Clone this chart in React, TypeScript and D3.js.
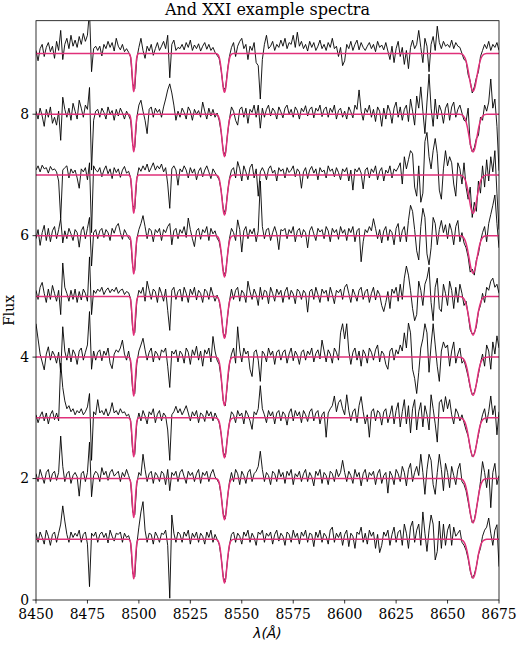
import React from "react";
import * as d3 from "d3";

const W = 520;
const H = 645;

const title = "And XXI example spectra";
const xTicks = [8450, 8475, 8500, 8525, 8550, 8575, 8600, 8625, 8650, 8675];
const yTicks = [0, 2, 4, 6, 8];

// spectra are sampled every 1 A starting at 8450 A
const lambda0 = 8450;
const offsets = [1, 2, 3, 4, 5, 6, 7, 8, 9];

// flux minus continuum, in hundredths
const spec1 = [
  10, -5, 12, 3, -8, 15, 5, -10, 8, 12,
  -5, 10, 25, 55, 30, 8, -5, 12, 3, 10,
  5, 15, -5, 8, 12, -8, -78, 10, 5, 12,
  -5, 8, 12, 3, 10, -6, 15, 5, -3, 10,
  8, 12, -5, 10, 3, 6, -6, -56, -62, -8,
  20, 45, 62, 15, -5, 10, 8, -8, 12, 5,
  -5, 10, 8, 15, -10, -97, 40, 10, -5, 12,
  8, -5, 12, 5, 15, -8, 10, 3, 12, -5,
  10, 5, -8, 12, 3, 15, -5, 8, 0, -8,
  -30, -62, -70, -36, -10, 8, 12, -5, 10, 5,
  -8, 12, 5, 15, -5, 10, 3, -10, 12, 8,
  15, -5, 10, 5, 12, -8, 8, 15, -3, 10,
  5, -10, 12, 8, -5, 15, 3, 10, -8, 12,
  5, 15, -5, 10, 8, -12, 12, 3, 15, -5,
  10, 5, -8, 15, 20, -5, 10, 3, 12, -10,
  8, 15, -12, 10, 5, -15, 12, 8, 20, -5,
  10, -8, 15, 5, 12, -15, 8, -22, -10, 12,
  5, 15, -10, 8, 20, -5, 12, 15, -10, 25,
  10, -15, 20, 30, -5, 15, 25, -10, 45, 10,
  -20, 15, 40, 25, -34, -20, 30, -15, 25, -10,
  15, 25, -10, 20, 5, 10, 15, -5, -10, -18,
  -32, -52, -64, -58, -45, -25, -15, 5, 15, 20,
  35, 10, -10, 15, 24, -45,
];
const spec2 = [
  8, -5, 15, 3, -8, 10, 15, -5, 8, 12,
  -3, 10, 70, 20, -5, 8, 12, -8, 5, 10,
  3, -29, 8, 12, -5, 10, 60, -30, 5, 12,
  8, -5, 18, 6, 12, -3, 10, 15, 4, 8,
  12, -5, 10, 3, 15, 5, -6, -55, -60, -8,
  10, 5, 40, 15, -5, 8, 12, -8, 10, 5,
  -5, 12, 8, -10, 15, -20, 10, 5, 12, -5,
  10, 15, 3, -8, 12, 5, 10, -5, 8, 15,
  -8, 10, 5, 12, -5, 8, 15, 3, -2, -8,
  -28, -58, -66, -34, -6, 10, -5, 15, 8, -10,
  12, 5, -8, 10, 15, -5, 8, 12, 20, 45,
  15, -5, 10, 5, -10, 12, 8, -5, 15, 3,
  10, -8, 12, 5, 15, -10, 8, 3, 12, -5,
  8, 15, -5, 10, 3, -12, 12, 5, 15, -8,
  10, 5, -10, 12, 8, -5, 15, 3, 10, 30,
  10, -5, 12, 5, -8, 15, 3, 10, -12, 8,
  15, -5, 10, 5, 12, -10, 8, 15, -8, 5,
  10, -24, 12, 5, -10, 15, 8, -5, 20, 10,
  -12, 15, 25, -5, 10, 20, 5, 40, 10, -26,
  15, 40, 30, -10, -26, 10, 40, 15, -20, 25,
  10, -15, 20, 5, -10, 15, 25, -5, -10, -20,
  -38, -57, -73, -68, -50, -30, -5, 28, 10, -15,
  15, -48, 10, 25, -10, 5,
];
const spec3 = [
  5, -8, 3, 10, -5, 8, -10, 5, 12, -3,
  8, -5, 90, 50, 28, 15, 20, 10, 15, 5,
  12, 8, 15, 5, 10, 18, 40, -70, 10, 5,
  30, 8, 12, 5, 15, 3, 10, 25, 8, 12,
  5, 15, 8, 10, 3, 6, -5, -56, -60, -8,
  8, -5, 12, 3, -10, 10, 5, 15, -8, 6,
  12, -5, 8, 3, -20, -70, 5, 10, 19, 8,
  15, 5, 12, 20, 8, -5, 10, 3, 12, -8,
  8, 5, -6, 12, 3, 10, -5, 8, 0, -8,
  -27, -56, -64, -33, -8, 10, 5, -8, 12, 3,
  8, -10, 12, 5, -5, -19, 10, 5, 15, 53,
  15, 5, -8, 12, 3, 10, -10, 8, 12, -5,
  10, 5, -12, 8, 15, -5, 12, 3, 10, -8,
  12, 5, -6, 10, 15, -5, 8, 12, -10, 5,
  10, -32, 8, 15, 20, 36, 10, 25, 30, 15,
  5, 38, 12, -5, 10, 15, -8, 20, 35, 10,
  -10, 5, -32, 10, 15, -5, 12, 8, -12, 10,
  15, -8, 5, 20, -10, 12, 25, -15, 10, 30,
  -10, 20, -25, 15, 30, -20, 10, 25, -15, 20,
  5, -20, 38, 15, -10, -40, 25, 30, 10, 35,
  15, 30, 5, -10, 15, 8, -5, 5, -8, -20,
  -30, -50, -64, -60, -45, -28, -10, 5, 15, -8,
  10, 36, 5, 20, -28, 10,
];
const spec4 = [
  55, 30, 5, -8, -21, 5, 17, -5, 10, 3,
  -10, 8, -25, 50, 10, -5, 15, -8, 12, 5,
  -12, 10, 15, -5, 8, 20, 75, -20, 10, -5,
  8, 12, -6, 10, 3, 15, -10, -19, 5, 12,
  8, 15, 28, 5, -5, 10, -10, -55, -60, -10,
  10, 20, 31, 12, -5, 8, 15, -8, 10, 5,
  -5, 12, 8, 15, -15, -50, 10, 5, 12, -8,
  10, 5, -10, 15, 8, -12, 12, 3, 18, -5,
  10, -15, 12, 5, 15, -8, 34, 10, -5, -12,
  -35, -72, -80, -45, -12, 5, 15, -10, 50, 12,
  -8, 15, 5, 10, -20, -32, 8, 12, -5, -40,
  10, 5, -8, 15, 3, 10, -12, 8, 12, -5,
  8, 12, -10, 5, 15, -6, 10, 3, -12, 8,
  12, -5, 10, 4, 15, -8, 6, 12, -3, 28,
  10, -8, 12, 5, -10, 15, 8, -5, 40, 55,
  30, 55, 10, -12, 8, 15, -5, 10, -15, 12,
  5, -10, 15, 8, -5, 12, 20, -8, 10, 5,
  -12, -20, 10, 15, -5, 12, 5, 20, 10, 40,
  15, 56, 40, -20, -35, -60, -25, 15, 30, 55,
  40, -25, 20, 55, 20, -15, -40, 10, 25, 15,
  20, -15, 10, 25, -10, 5, 15, -10, -5, -18,
  -32, -50, -62, -58, -45, -28, -10, 5, -15, 20,
  10, -20, 25, 5, 35, 15,
];
const spec5 = [
  10, -5, 15, 23, 5, -10, 12, -5, 18, 5,
  -8, 10, -30, 55, 15, 5, -8, 10, -5, 12,
  -10, 8, -6, 12, 5, -8, 65, -30, 10, 5,
  12, 8, 15, 3, 10, 14, 6, 12, 8, 15,
  5, 10, 12, 3, 8, 6, -4, -55, -60, -8,
  10, 5, 15, -8, 25, 10, -5, 12, 8, -10,
  15, 5, -8, 12, -23, -56, 10, 15, -5, 8,
  12, -8, 15, 5, -10, 12, 3, 15, -6, 10,
  5, -10, 12, 8, -5, 15, 3, -8, 2, -8,
  -28, -60, -67, -36, -8, 12, -5, 10, 15, -8,
  10, 5, -10, 25, 8, -5, 12, 3, -15, 15,
  -5, 10, 8, -12, 15, 5, -8, 12, 3, 10,
  -10, 8, 15, -5, 10, 4, -12, 12, 8, -5,
  10, 5, -26, 8, 12, -5, 15, 3, -10, 12,
  5, 10, -8, 15, 3, -12, 10, 6, 12, -5,
  15, 20, 5, -10, 12, 3, -8, 10, 15, -5,
  8, 12, -10, 5, 15, -6, 10, 3, -15, -25,
  -10, 8, -20, 12, 5, 15, -8, 20, -5, 30,
  50, 35, 10, -20, -40, -30, 25, 10, -15, 20,
  30, 48, -10, -40, 15, 30, -20, -25, 20, 5,
  -15, 25, 10, -20, 15, -10, 20, 5, -15, -8,
  -30, -55, -62, -60, -50, -25, -15, 5, -10, 15,
  10, 25, 30, 15, 20, 5,
];
const spec6 = [
  -5, 10, -16, 5, 17, -8, 12, -10, 8, 15,
  -5, 10, 28, -12, 8, -5, 12, 3, -8, 10,
  5, -19, 8, 15, -5, 12, 30, -50, 5, 10,
  -5, 8, 12, -3, 10, 5, -8, 12, 4, 15,
  20, 5, -6, 10, 3, -4, -8, -52, -57, -5,
  10, 20, 33, 15, -5, 12, 8, -10, 10, 5,
  12, -8, 10, 5, 15, 20, -15, 8, 12, -5,
  10, 4, 15, -3, 29, 10, -5, -18, 8, 12,
  -6, 10, 5, 15, -8, 12, 3, 8, -4, -10,
  -28, -58, -66, -34, -5, 12, 5, -8, 26, 10,
  -27, 8, 15, -5, 10, 3, 12, -10, 8, 90,
  15, -5, 10, 12, -8, 5, 15, 3, -23, 10,
  8, 12, -5, 10, 4, 15, -10, 8, 12, -3,
  10, 5, -20, 8, 15, 3, -8, 12, 6, 10,
  -5, 15, 8, -10, 12, 5, 10, -6, 15, 4,
  10, -8, 12, 5, 15, -10, 8, 12, -43, -10,
  10, 5, 15, 8, 28, 12, -5, 10, -12, 8,
  15, -8, 10, 5, -15, 12, 20, -10, 8, 15,
  -10, 25, 50, 40, 10, -25, -40, 15, 45, 30,
  -30, -48, -20, 30, 20, -15, 10, 25, 5, 18,
  -5, 20, 8, -15, 15, 25, -10, 5, -12, -20,
  -35, -60, -55, -65, -40, -30, -10, 5, 15, -10,
  20, 35, 50, 67, 20, -20,
];
const spec7 = [
  8, 15, 5, 16, 10, 12, 3, 14, 8, 10,
  5, -10, -72, 8, 12, 15, -5, 10, 3, 8,
  -5, -22, 10, 5, 12, -8, 20, -95, 15, 8,
  5, 12, -3, 8, 15, 2, 10, -6, 12, 4,
  10, -4, 8, 14, 3, 6, -5, -50, -56, -6,
  12, 6, 15, 8, 18, 5, 12, 20, 8, 15,
  10, 18, 5, 12, -15, -55, 10, 15, 8, -17,
  10, 5, 15, 8, -5, 12, 3, 10, -8, 6,
  12, -3, 8, 15, 5, -6, 10, 4, -2, -8,
  -26, -55, -64, -32, -6, 8, 12, -5, 22, 10,
  -10, 15, 5, -8, 12, 18, -5, 10, -35, 5,
  12, 5, -8, 10, 15, 3, 8, -10, 12, 6,
  10, -5, 12, 4, 8, 15, -3, 10, 5, -22,
  5, 12, -6, 8, 14, 3, 10, -8, 12, 5,
  8, -5, 15, 6, 10, -3, 12, 4, -8, 10,
  5, 12, -10, 8, -25, 10, 5, 12, 3, -23,
  8, 12, -5, 10, 4, 15, -8, 6, 12, -10,
  8, 3, 15, -5, 10, 6, 12, 20, -15, 30,
  10, 25, 40, 35, -20, -35, 15, -45, -30, 55,
  70, 30, 10, 40, 60, 35, -25, -40, 10, 40,
  15, 30, 20, -15, -35, 20, 10, -15, 20, -20,
  -40, -20, -70, -45, -60, -10, -30, 15, -20, 25,
  -10, 30, 5, 40, -30, -90,
];
const spec8 = [
  5, -8, 10, -3, -20, 8, -5, 12, -15, -5,
  -18, 5, -43, 28, 8, -5, 10, -10, 18, 5,
  -8, 23, 10, -5, 15, 8, 44, -92, -10, 5,
  8, -5, 10, 3, -8, 12, 0, 6, -10, 8,
  -3, 10, 2, -8, 5, -2, -10, -52, -55, -5,
  15, 23, 5, -10, -32, 8, 12, -5, 10, 3,
  8, -5, 12, 25, 40, 50, 35, 15, -10, 5,
  -5, 10, 3, -8, 12, 5, -10, 8, 0, 6,
  -5, 20, 5, -8, 10, -3, 8, -5, 2, -10,
  -30, -60, -68, -35, -8, 12, 5, -10, -18, 8,
  12, -5, 10, -15, 8, 3, 15, -5, 15, -23,
  10, -5, 8, 15, -3, 10, 5, -8, 12, 4,
  -6, 10, 15, 0, 8, -5, 12, 6, -8, 10,
  4, 14, -3, 8, 12, -6, 10, 5, 15, -4,
  8, 12, -5, 10, 3, 15, -8, 6, 10, -5,
  5, -8, 12, 4, -6, 15, 8, 40, 5, -10,
  10, 3, 15, -5, 8, -12, 12, 5, -20, 10,
  -8, 15, 5, -15, 10, 20, -5, 12, -10, 8,
  15, -12, 25, 5, -18, 30, 10, 45, 5, -32,
  20, 66, 10, -20, 25, -8, 15, 5, -15, 10,
  18, -10, 12, 20, -5, 8, 15, 2, -10, -12,
  10, -50, -62, -55, -40, -35, -5, -10, 15, 5,
  20, 58, 10, 25, -20, -93,
];
const spec9 = [
  5, -12, 8, 15, -5, 10, 18, 3, 12, -8,
  20, 5, 38, -10, 15, 25, 8, 30, 12, 22,
  10, 28, 15, 33, 20, 30, 70, -30, 8, 12,
  5, 12, -4, 15, 8, 20, 10, 18, 4, 25,
  12, 6, 15, 3, 8, 2, -6, -50, -58, -8,
  10, 25, 5, -8, 12, 4, 15, -3, 8, 18,
  5, 12, 20, 8, 30, -40, 15, 22, 5, 10,
  8, 15, 6, 18, 10, 22, 5, 14, 8, 16,
  4, 12, 18, 7, 15, 5, 10, 2, -3, -8,
  -28, -55, -60, -30, -5, 10, 18, -5, 12, 20,
  25, 8, 15, -10, 12, 5, 18, -15, -20, -75,
  -10, 15, 30, 8, 12, 20, 5, 15, 10, 22,
  12, 25, 8, 18, 15, 30, 10, 35, 12, 20,
  8, 15, 4, 20, 10, 18, 5, 12, 22, 8,
  15, 5, 18, 10, 25, 8, 12, -5, 10, -20,
  -12, 15, 8, 20, 5, 15, 22, 6, 18, 10,
  5, 12, 18, 8, 15, 3, 20, 10, 14, 6,
  18, 4, -10, 12, -15, 8, 20, -5, 10, -18,
  5, -25, 10, 22, 8, 15, 38, 10, -15, 25,
  12, -30, 15, 28, 5, 45, 18, 8, 20, 12,
  15, 10, 22, 8, 18, 12, 10, 0, -10, -12,
  -35, -45, -65, -55, -40, -30, -5, 5, 15, 8,
  20, 5, 15, 10, 18, 5,
];
const spectra = [spec1, spec2, spec3, spec4, spec5, spec6, spec7, spec8, spec9];

// Ca II triplet fit: centres (A), widths (A) and depths per spectrum
const lineCentres = [8497.5, 8541.6, 8662.4];
const lineSigmas = [0.7, 1.2, 1.9];
const lineDepths = [
  [0.65, 0.72, 0.64],
  [0.64, 0.68, 0.73],
  [0.64, 0.66, 0.64],
  [0.64, 0.8, 0.63],
  [0.64, 0.69, 0.64],
  [0.63, 0.68, 0.62],
  [0.63, 0.66, 0.63],
  [0.62, 0.7, 0.62],
  [0.63, 0.64, 0.62],
];
// normalised gaussian profile, tabulated in units of sigma
const profileSteps = [-4, -3.5, -3, -2.5, -2, -1.5, -1, -0.5, 0, 0.5, 1, 1.5, 2, 2.5, 3, 3.5, 4];
const profileShape = [
  0.0003, 0.0022, 0.0111, 0.0439, 0.1353, 0.3247, 0.6065, 0.8825, 1,
  0.8825, 0.6065, 0.3247, 0.1353, 0.0439, 0.0111, 0.0022, 0.0003,
];

const serif = "DejaVu Serif";

export default function App() {
  const left = 36, right = 499, top = 20.7, bottom = 600;
  const x = d3.scaleLinear().domain([8450, 8675]).range([left, right]);
  const y = d3.scaleLinear().domain([0, 9.54]).range([bottom, top]);

  const model = d3
    .line<[number, number]>()
    .x((d) => x(d[0]))
    .y((d) => y(d[1]))
    .curve(d3.curveMonotoneX);

  const modelPoints = (k: number): [number, number][] => {
    const base = offsets[k];
    const pts: [number, number][] = [[8450, base]];
    lineCentres.forEach((c, j) => {
      profileSteps.forEach((s, m) => {
        pts.push([c + s * lineSigmas[j], base - lineDepths[k][j] * profileShape[m]]);
      });
    });
    pts.push([8675, base]);
    return pts;
  };

  return (
    <svg
      width={W}
      height={H}
      style={{ position: "absolute", left: 0, top: 0, background: "#fff" }}
    >
      <defs>
        <clipPath id="plotArea">
          <rect x={left} y={top} width={right - left} height={bottom - top} />
        </clipPath>
      </defs>
      <rect x={0} y={0} width={W} height={H} fill="#fff" />

      <g clipPath="url(#plotArea)">
        {spectra.map((sp, k) => {
          const base = offsets[k];
          const path = d3
            .line<number>()
            .x((_, i) => x(lambda0 + i))
            .y((v) => y(base + v / 100))(sp);
          return (
            <g key={k}>
              <path d={path || ""} fill="none" stroke="#000" strokeWidth={0.9} strokeLinejoin="round" />
              <path d={model(modelPoints(k)) || ""} fill="none" stroke="#e0307a" strokeWidth={1.5} />
            </g>
          );
        })}
      </g>

      <rect
        x={left}
        y={top}
        width={right - left}
        height={bottom - top}
        fill="none"
        stroke="#000"
        strokeWidth={0.8}
      />

      {xTicks.map((t) => (
        <g key={t}>
          <line x1={x(t)} x2={x(t)} y1={bottom} y2={bottom + 3.5} stroke="#000" strokeWidth={0.8} />
          <text x={x(t)} y={619} textAnchor="middle" fontFamily={serif} fontSize={13.9}>
            {t}
          </text>
        </g>
      ))}
      {yTicks.map((t) => (
        <g key={t}>
          <line x1={left - 3.5} x2={left} y1={y(t)} y2={y(t)} stroke="#000" strokeWidth={0.8} />
          <text x={left - 7} y={y(t) + 4.5} textAnchor="end" fontFamily={serif} fontSize={13.9}>
            {t}
          </text>
        </g>
      ))}

      <text x={(left + right) / 2} y={14.5} textAnchor="middle" fontFamily={serif} fontSize={16}>
        {title}
      </text>
      <text
        transform={`translate(14,${(top + bottom) / 2}) rotate(-90)`}
        textAnchor="middle"
        fontFamily={serif}
        fontSize={13.9}
      >
        Flux
      </text>
      <text
        x={(left + right) / 2}
        y={638}
        textAnchor="middle"
        fontFamily="DejaVu Sans"
        fontStyle="italic"
        fontSize={13.9}
      >
        λ(Å)
      </text>
    </svg>
  );
}
